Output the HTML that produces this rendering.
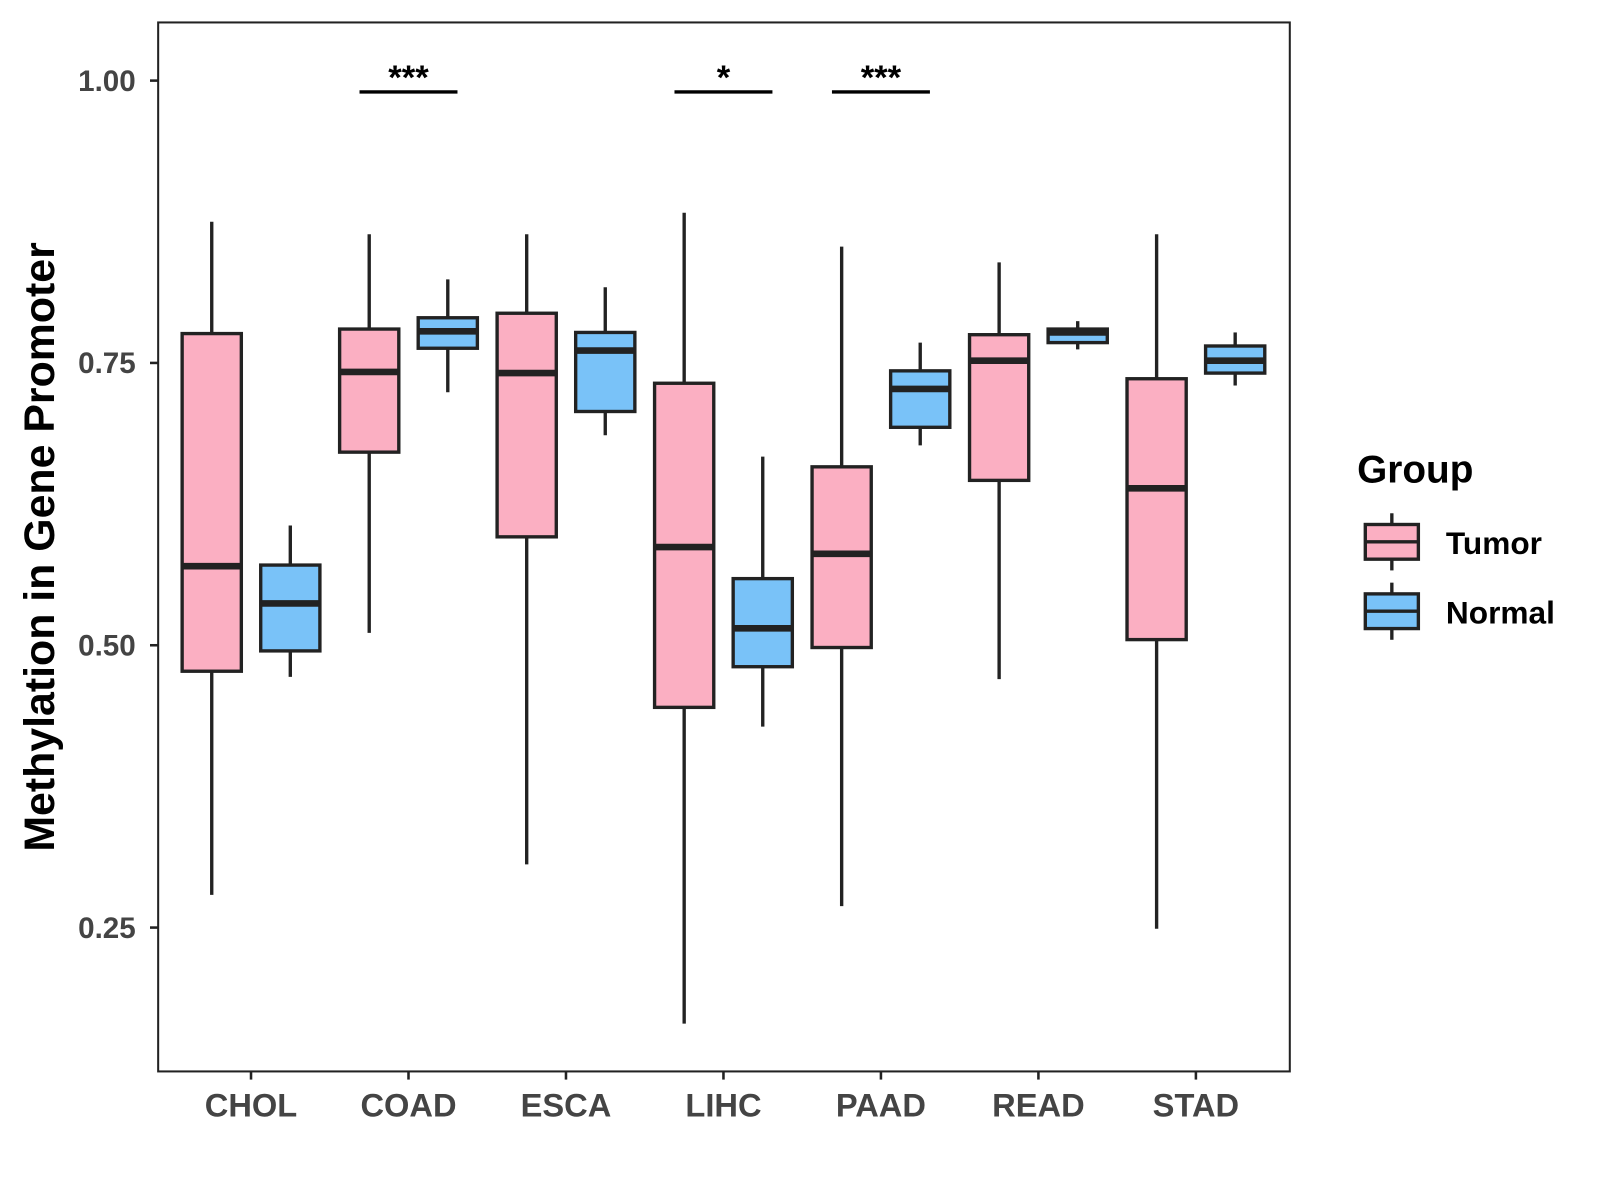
<!DOCTYPE html>
<html><head><meta charset="utf-8"><style>
body{margin:0;background:#fff}
svg{font-family:"Liberation Sans",Arial,sans-serif;display:block}
</style></head><body>
<svg width="1600" height="1200" viewBox="0 0 1568 1176">
<rect x="155" y="22" width="1109" height="1028" fill="#fff" stroke="#222" stroke-width="2"/>
<g id="yaxis"></g>
<g id="xaxis"></g>
<g id="boxes"></g>
<g id="sig"></g>
<text x="53" y="536" transform="rotate(-90 53 536)" text-anchor="middle" font-size="42" font-weight="bold" fill="#000">Methylation in Gene Promoter</text>
<g>
<text x="1330" y="473" font-size="38" font-weight="bold">Group</text>
<g>
<line x1="1364" y1="503" x2="1364" y2="559" stroke="#222" stroke-width="3.3"/>
<rect x="1338" y="514" width="52" height="34" fill="#FBAFC2" stroke="#222" stroke-width="3.3"/>
<line x1="1338" y1="531" x2="1390" y2="531" stroke="#222" stroke-width="3.3"/>
<text x="1417" y="543" font-size="31" font-weight="bold">Tumor</text></g>
<g>
<line x1="1364" y1="571" x2="1364" y2="627" stroke="#222" stroke-width="3.3"/>
<rect x="1338" y="582" width="52" height="34" fill="#79C2F8" stroke="#222" stroke-width="3.3"/>
<line x1="1338" y1="599" x2="1390" y2="599" stroke="#222" stroke-width="3.3"/>
<text x="1417" y="611" font-size="31" font-weight="bold">Normal</text></g>
</g>
</svg>
<script>
const categories=["CHOL","COAD","ESCA","LIHC","PAAD","READ","STAD"];
// [lowWhisker, q1, median, q3, highWhisker]
const tumorStats=[[0.279,0.477,0.570,0.776,0.875],[0.511,0.671,0.742,0.780,0.864],[0.306,0.596,0.741,0.794,0.864],[0.165,0.445,0.587,0.732,0.883],[0.269,0.498,0.581,0.658,0.853],[0.470,0.646,0.752,0.775,0.839],[0.249,0.505,0.639,0.736,0.864]];
const normalStats=[[0.472,0.495,0.537,0.571,0.606],[0.724,0.763,0.778,0.790,0.824],[0.686,0.707,0.761,0.777,0.817],[0.428,0.481,0.515,0.559,0.667],[0.677,0.693,0.727,0.743,0.768],[0.762,0.768,0.777,0.780,0.787],[0.730,0.741,0.752,0.765,0.777]];
const yTicks=[0.25,0.50,0.75,1.00];
const yTickLabels=["0.25","0.50","0.75","1.00"];
const sigCats=["COAD","LIHC","PAAD"];
const sigLabels=["***","*","***"];
const sigLevel=[0.99,0.99,0.99];

const NS="http://www.w3.org/2000/svg";
function y(v){return 79+(1-v)*1106.7;}
function x(i){return 246+i*154.33;}
function mk(tag,attrs,parent){const e=document.createElementNS(NS,tag);for(const k in attrs)e.setAttribute(k,attrs[k]);parent.appendChild(e);return e;}
const ya=document.getElementById('yaxis'),xa=document.getElementById('xaxis'),bx=document.getElementById('boxes'),sg=document.getElementById('sig');
yTicks.forEach((t,i)=>{
 const l=mk('line',{x1:147,x2:155,y1:y(t),y2:y(t),stroke:'#222','stroke-width':2.5},ya);
 
 
 const tx=mk('text',{x:133,y:y(t)+10,'text-anchor':'end','font-size':29,'font-weight':'bold',fill:'#444'},ya);
 tx.textContent=yTickLabels[i];
 
 
});
categories.forEach((c,i)=>{
 const l=mk('line',{x1:x(i),x2:x(i),y1:1050,y2:1058,stroke:'#222','stroke-width':2.5},xa);
 
 
 const tx=mk('text',{x:x(i),y:1094,'text-anchor':'middle','font-size':32,'font-weight':'bold',fill:'#444'},xa);
 tx.textContent=c;
 
 
});
function box(cx,s,fill,name){
 const g=mk('g',{},bx);
 
 
 const w=58;
 mk('line',{x1:cx,x2:cx,y1:y(s[4]),y2:y(s[0]),stroke:'#222','stroke-width':3.3},g);
 mk('rect',{x:cx-w/2,y:y(s[3]),width:w,height:y(s[1])-y(s[3]),fill:fill,stroke:'#222','stroke-width':3.3},g);
 mk('line',{x1:cx-w/2,x2:cx+w/2,y1:y(s[2]),y2:y(s[2]),stroke:'#222','stroke-width':6.5},g);
}
categories.forEach((c,i)=>{
 box(x(i)-38.5,tumorStats[i],'#FBAFC2','box-'+c.toLowerCase()+'-tumor');
 box(x(i)+38.5,normalStats[i],'#79C2F8','box-'+c.toLowerCase()+'-normal');
});
sigCats.forEach((c,k)=>{
 const i=categories.indexOf(c);
 const l=mk('line',{x1:x(i)-48,x2:x(i)+48,y1:y(sigLevel[k]),y2:y(sigLevel[k]),stroke:'#000','stroke-width':3.3},sg);
 
 
 const t=mk('text',{x:x(i),y:y(sigLevel[k])-3,'text-anchor':'middle','font-size':34,'font-weight':'bold'},sg);
 t.textContent=sigLabels[k];
 
 
});
</script>
</body></html>
